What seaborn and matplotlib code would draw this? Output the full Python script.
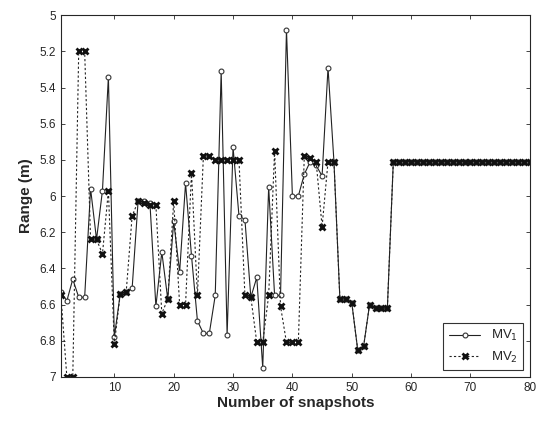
import matplotlib
matplotlib.use('Agg')
import matplotlib.pyplot as plt
import seaborn as sns
import pandas as pd

# snapshot index and range readings (m) for the two estimators
snapshots = list(range(1, 81))

mv1 = [6.53, 6.58, 6.46, 6.56, 6.56, 5.96, 6.24, 5.97, 5.34, 6.78,
       6.54, 6.53, 6.51, 6.03, 6.03, 6.04, 6.61, 6.31, 6.57, 6.14,
       6.42, 5.93, 6.33, 6.69, 6.76, 6.76, 6.55, 5.31, 6.77, 5.73,
       6.11, 6.13, 6.56, 6.45, 6.95, 5.95, 6.55, 6.55, 5.08, 6.00,
       6.00, 5.88, 5.81, 5.83, 5.89, 5.29, 5.81, 6.57, 6.57, 6.59,
       6.85, 6.83, 6.60, 6.62, 6.62, 6.62, 5.81, 5.81, 5.81, 5.81,
       5.81, 5.81, 5.81, 5.81, 5.81, 5.81, 5.81, 5.81, 5.81, 5.81,
       5.81, 5.81, 5.81, 5.81, 5.81, 5.81, 5.81, 5.81, 5.81, 5.81]

mv2 = [6.55, 7.00, 7.00, 5.20, 5.20, 6.24, 6.24, 6.32, 5.97, 6.82,
       6.54, 6.53, 6.11, 6.03, 6.04, 6.05, 6.05, 6.65, 6.57, 6.03,
       6.60, 6.60, 5.87, 6.55, 5.78, 5.78, 5.80, 5.80, 5.80, 5.80,
       5.80, 6.55, 6.56, 6.81, 6.81, 6.55, 5.75, 6.61, 6.81, 6.81,
       6.81, 5.78, 5.79, 5.81, 6.17, 5.81, 5.81, 6.57, 6.57, 6.59,
       6.85, 6.83, 6.60, 6.62, 6.62, 6.62, 5.81, 5.81, 5.81, 5.81,
       5.81, 5.81, 5.81, 5.81, 5.81, 5.81, 5.81, 5.81, 5.81, 5.81,
       5.81, 5.81, 5.81, 5.81, 5.81, 5.81, 5.81, 5.81, 5.81, 5.81]

y_ticks = [5, 5.2, 5.4, 5.6, 5.8, 6, 6.2, 6.4, 6.6, 6.8, 7]
y_tick_labels = ['5', '5.2', '5.4', '5.6', '5.8', '6', '6.2', '6.4', '6.6', '6.8', '7']
x_ticks = [10, 20, 30, 40, 50, 60, 70, 80]

df = pd.DataFrame({'snapshot': snapshots, 'mv1': mv1, 'mv2': mv2})

sns.set_style('ticks')
plt.rcParams['font.family'] = ['Liberation Sans', 'DejaVu Sans']

fig = plt.figure(figsize=(5.39, 4.22), dpi=100)
ax = fig.add_axes([0.113, 0.107, 0.870, 0.857])

# MV1: solid line with open circles
sns.lineplot(x='snapshot', y='mv1', data=df, ax=ax, color='#222222', linewidth=0.8,
             marker='o', markersize=3.5, markerfacecolor='white', markeredgecolor='#333333',
             markeredgewidth=0.8, label='MV$_1$')
# MV2: dashed line with bold x markers
sns.lineplot(x='snapshot', y='mv2', data=df, ax=ax, color='#222222', linewidth=0.8,
             linestyle=(0, (2, 2)), marker='x', markersize=4.5, markeredgecolor='#111111',
             markeredgewidth=2.0, label='MV$_2$')

ax.set_xlim(1, 80)
ax.set_ylim(7, 5)
ax.set_xticks(x_ticks)
ax.set_yticks(y_ticks)
ax.set_yticklabels(y_tick_labels)
ax.tick_params(direction='in', top=True, right=True, labelsize=8.5, length=3, width=0.6)
for spine in ax.spines.values():
    spine.set_linewidth(0.8)

ax.set_xlabel('Number of snapshots', fontsize=11, fontweight='bold', labelpad=2)
ax.set_ylabel('Range (m)', fontsize=11, fontweight='bold', labelpad=5)

leg = ax.legend(loc='lower right', fontsize=9.5, frameon=True, fancybox=False,
                edgecolor='black', handlelength=2.4, borderaxespad=0.5)
leg.get_frame().set_linewidth(0.8)

fig.savefig('out.png', dpi=100)
